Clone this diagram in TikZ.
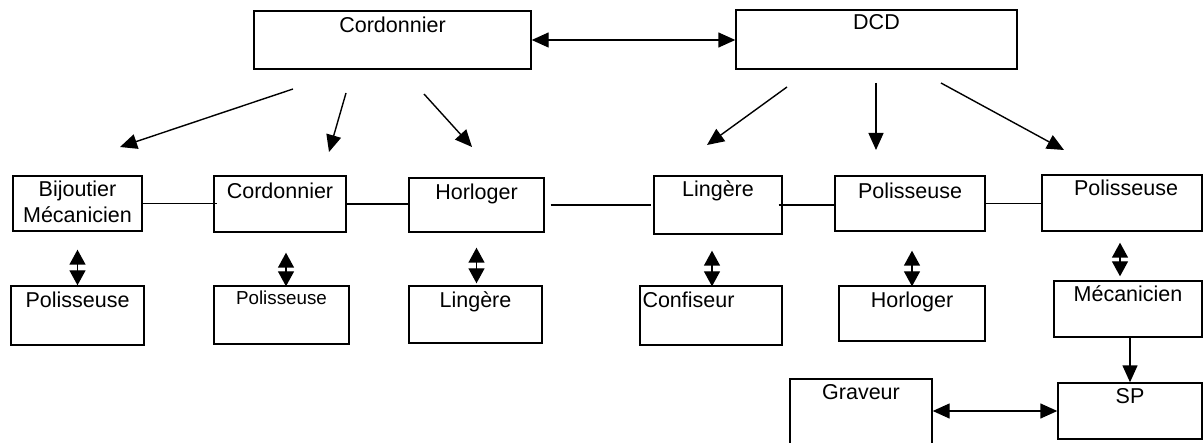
\documentclass[tikz,border=0pt]{standalone}
\usepackage{fontspec}
\setmainfont{Liberation Sans}
\usetikzlibrary{arrows.meta}
\newcommand{\lbfont}{\fontsize{21.5}{26}\selectfont}
\newcommand{\smfont}{\fontsize{18.8}{22}\selectfont}

\begin{document}
\begin{tikzpicture}[x=1pt, y=-1pt,
  box/.style={rectangle, draw=black, line width=1.4pt, inner sep=0pt},
  lbl/.style={anchor=north, inner sep=0pt, font=\lbfont},
  link/.style={line width=1.4pt},
  arr/.style={-{Triangle[length=17pt, width=15pt]}, line width=1.4pt},
  dbl/.style={{Triangle[length=17pt, width=15pt]}-{Triangle[length=17pt, width=15pt]}, line width=1.4pt},
  dblv/.style={{Triangle[length=15pt, width=16pt]}-{Triangle[length=15pt, width=16pt]}, line width=1.4pt}
]
\useasboundingbox (0,0) rectangle (1204,443);

% top row
\node[box, minimum width=277pt, minimum height=58pt] (cordA) at (392.5,40) {};
\node[lbl] (cordA-t) at ([yshift=-6pt]cordA.north) {Cordonnier};
\node[box, minimum width=281pt, minimum height=59pt] (dcd) at (876.5,39.5) {};
\node[lbl] (dcd-t) at ([yshift=-5pt]dcd.north) {DCD};

% middle row
\node[box, minimum width=129pt, minimum height=55pt] (bij) at (77.5,203.5) {};
\node[lbl, align=center] (bij-t) at ([yshift=-5pt]bij.north) {Bijoutier\\Mécanicien};
\node[box, minimum width=132pt, minimum height=56pt] (cordB) at (280,204) {};
\node[lbl] (cordB-t) at ([yshift=-7pt]cordB.north) {Cordonnier};
\node[box, minimum width=135pt, minimum height=54pt] (horB) at (476.5,205) {};
\node[lbl] (horB-t) at ([yshift=-6pt]horB.north) {Horloger};
\node[box, minimum width=128pt, minimum height=58pt] (linB) at (718,205) {};
\node[lbl] (linB-t) at ([yshift=-5pt]linB.north) {Lingère};
\node[box, minimum width=150pt, minimum height=55pt] (polB) at (910,203.5) {};
\node[lbl] (polB-t) at ([yshift=-7pt]polB.north) {Polisseuse};
\node[box, minimum width=160pt, minimum height=56pt] (polC) at (1122,203) {};
\node[lbl] (polC-t) at ([xshift=4pt, yshift=-5pt]polC.north) {Polisseuse};

% bottom row
\node[box, minimum width=133pt, minimum height=59pt] (pol1) at (77.5,315.5) {};
\node[lbl] (pol1-t) at ([yshift=-6pt]pol1.north) {Polisseuse};
\node[box, minimum width=135pt, minimum height=58pt] (pol2) at (281.5,315) {};
\node[lbl, font=\smfont] (pol2-t) at ([yshift=-5pt]pol2.north) {Polisseuse};
\node[box, minimum width=133pt, minimum height=57pt] (lin2) at (475.5,314.5) {};
\node[lbl] (lin2-t) at ([yshift=-6pt]lin2.north) {Lingère};
\node[box, minimum width=142pt, minimum height=59pt] (conf) at (711,315.5) {};
\node[lbl, anchor=north west] (conf-t) at ([xshift=3pt, yshift=-6pt]conf.north west) {Confiseur};
\node[box, minimum width=146pt, minimum height=55pt] (hor2) at (912,313.5) {};
\node[lbl] (hor2-t) at ([yshift=-6pt]hor2.north) {Horloger};
\node[box, minimum width=148pt, minimum height=56pt] (mec) at (1128,309) {};
\node[lbl] (mec-t) at ([yshift=-5pt]mec.north) {Mécanicien};

% last row
\node[box, minimum width=142pt, minimum height=67pt] (grav) at (861,412.5) {};
\node[lbl] (grav-t) at ([yshift=-6pt]grav.north) {Graveur};
\node[box, minimum width=144pt, minimum height=56pt] (sp) at (1130,411) {};
\node[lbl] (sp-t) at ([yshift=-6pt]sp.north) {SP};

% free ends of the diagonal arrows
\coordinate (ca1) at (293,89);  \coordinate (cb1) at (120,147);
\coordinate (ca2) at (346,93);  \coordinate (cb2) at (329,152);
\coordinate (ca3) at (424,94);  \coordinate (cb3) at (472,147);
\coordinate (da1) at (787,87);  \coordinate (db1) at (707,145);
\coordinate (da2) at (876,83);  \coordinate (db2) at (876,150);
\coordinate (da3) at (941,83);  \coordinate (db3) at (1064,150);

\draw[dbl] (cordA.east) -- (cordA.east -| dcd.west);
\draw[arr] (ca1) -- (cb1);
\draw[arr] (ca2) -- (cb2);
\draw[arr] (ca3) -- (cb3);
\draw[arr] (da1) -- (db1);
\draw[arr] (da2) -- (db2);
\draw[arr] (da3) -- (db3);

\draw[link, shorten >=-4pt] (bij.east) -- (bij.east -| cordB.west);
\draw[link, shorten >=-2pt] (cordB.east) -- (cordB.east -| horB.west);
\draw[link, shorten <=6pt, shorten >=2pt] (horB.east) -- (horB.east -| linB.west);
\draw[link, shorten <=-4pt] (linB.east) -- (linB.east -| polB.west);
\draw[link] (polB.east) -- (polB.east -| polC.west);

\draw[dblv, shorten <=18pt] (bij.south) -- (bij.south |- pol1.north);
\draw[dblv, shorten <=20pt, shorten >=-1pt] ([xshift=6pt]cordB.south) -- ([xshift=4.5pt]pol2.north);
\draw[dblv, shorten <=15pt, shorten >=2pt] (horB.south) -- (horB.south |- lin2.north);
\draw[dblv, shorten <=16pt, shorten >=-1pt] ([xshift=-6pt]linB.south) -- ([xshift=1pt]conf.north);
\draw[dblv, shorten <=19pt, shorten >=-1pt] (hor2.north |- polB.south) -- (hor2.north);
\draw[dblv, shorten <=11pt, shorten >=4pt] ([xshift=-2pt]polC.south) -- ([xshift=-8pt]mec.north);

\draw[arr] (sp.north |- mec.south) -- (sp.north);
\draw[dbl] (grav.east |- sp.west) -- (sp.west);
\end{tikzpicture}
\end{document}
